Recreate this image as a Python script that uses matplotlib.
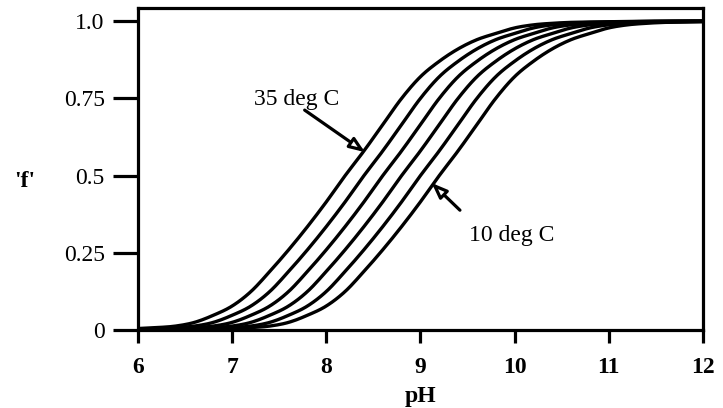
import numpy as np
import matplotlib
matplotlib.use("Agg")
import matplotlib.pyplot as plt

plt.rcParams["font.family"] = ["Liberation Serif", "DejaVu Serif"]

# pH grid shared by all curves
ph = [6.0, 6.2, 6.4, 6.6, 6.8, 7.0, 7.2, 7.4, 7.6, 7.8, 8.0, 8.2, 8.4, 8.6, 8.8,
      9.0, 9.2, 9.4, 9.6, 9.8, 10.0, 10.2, 10.4, 10.6, 10.8, 11.0, 11.2, 11.4,
      11.6, 11.8, 12.0]

# fraction 'f', one list per temperature
f_35 = [.005, .008, .013, .025, .048, .078, .125, .190, .260, .335, .415, .500, .580,
        .665, .750, .820, .870, .910, .940, .960, .978, .988, .993, .996, .997, .998,
        .999, 1, 1, 1, 1]
f_30 = [.003, .005, .008, .013, .025, .048, .078, .125, .190, .260, .335, .415, .500,
        .580, .665, .750, .820, .870, .910, .940, .960, .978, .988, .993, .996, .997,
        .998, .999, 1, 1, 1]
f_25 = [.002, .003, .005, .008, .013, .025, .048, .078, .125, .190, .260, .335, .415,
        .500, .580, .665, .750, .820, .870, .910, .940, .960, .978, .988, .993, .996,
        .997, .998, .999, 1, 1]
f_20 = [.002, .002, .003, .005, .008, .013, .025, .048, .078, .125, .190, .260, .335,
        .415, .500, .580, .665, .750, .820, .870, .910, .940, .960, .978, .988, .993,
        .996, .997, .998, .999, 1]
f_15 = [.001, .002, .002, .003, .005, .008, .013, .025, .048, .078, .125, .190, .260,
        .335, .415, .500, .580, .665, .750, .820, .870, .910, .940, .960, .978, .988,
        .993, .996, .997, .998, .999]
f_10 = [.001, .001, .002, .002, .003, .005, .008, .013, .025, .048, .078, .125, .190,
        .260, .335, .415, .500, .580, .665, .750, .820, .870, .910, .940, .960, .978,
        .988, .993, .996, .997, .998]

x_ticks = [6, 7, 8, 9, 10, 11, 12]
y_ticks = [0, 0.25, 0.5, 0.75, 1.0]
y_tick_labels = ["0", "0.25", "0.5", "0.75", "1.0"]


def smooth(x, y, n=10):
    # catmull-rom through the read points, just so the lines are not kinked
    x = np.asarray(x, float)
    y = np.asarray(y, float)
    px = np.concatenate([[2 * x[0] - x[1]], x, [2 * x[-1] - x[-2]]])
    py = np.concatenate([[2 * y[0] - y[1]], y, [2 * y[-1] - y[-2]]])
    t = np.linspace(0, 1, n, endpoint=False)
    xs, ys = [], []
    for i in range(1, len(px) - 2):
        for p, out in ((px, xs), (py, ys)):
            p0, p1, p2, p3 = p[i - 1], p[i], p[i + 1], p[i + 2]
            out.append(0.5 * (2 * p1 + (-p0 + p2) * t
                              + (2 * p0 - 5 * p1 + 4 * p2 - p3) * t ** 2
                              + (-p0 + 3 * p1 - 3 * p2 + p3) * t ** 3))
    xs.append([x[-1]])
    ys.append([y[-1]])
    return np.concatenate(xs), np.concatenate(ys)


fig = plt.figure(figsize=(7.23, 4.08), dpi=100)
ax = fig.add_axes([0.191, 0.191, 0.781, 0.789])

for f in [f_35, f_30, f_25, f_20, f_15, f_10]:
    xs, ys = smooth(ph, f)
    ax.plot(xs, ys, color="black", lw=2.4)

ax.set_xlim(6, 12)
ax.set_ylim(0, 1.042)

for s in ax.spines.values():
    s.set_linewidth(2.3)

ax.set_xticks(x_ticks)
ax.set_xticklabels([str(t) for t in x_ticks], fontweight="bold", fontsize=17)
ax.set_yticks(y_ticks)
ax.set_yticklabels(y_tick_labels, fontsize=17)
ax.tick_params(axis="y", direction="out", length=18, width=2.3, pad=6)
ax.tick_params(axis="x", direction="out", length=9.5, width=2.3, pad=10)

ax.set_xlabel("pH", fontsize=17, fontweight="bold", labelpad=6)
ax.set_ylabel("'f'", fontsize=17, fontweight="bold", rotation=0,
              va="center", ha="center")
ax.yaxis.set_label_coords(-0.2, 0.46)

arrow = dict(arrowstyle="-|>,head_length=0.9,head_width=0.35", fc="white",
             ec="black", lw=2.3, shrinkA=0, shrinkB=0)
ax.annotate("", xy=(8.41, 0.576), xytext=(7.77, 0.712), arrowprops=arrow)
ax.text(7.68, 0.745, "35 deg C", fontsize=17, ha="center", va="center")
ax.annotate("", xy=(9.12, 0.476), xytext=(9.42, 0.388), arrowprops=arrow)
ax.text(9.97, 0.305, "10 deg C", fontsize=17, ha="center", va="center")

fig.savefig("out.png", dpi=100)
